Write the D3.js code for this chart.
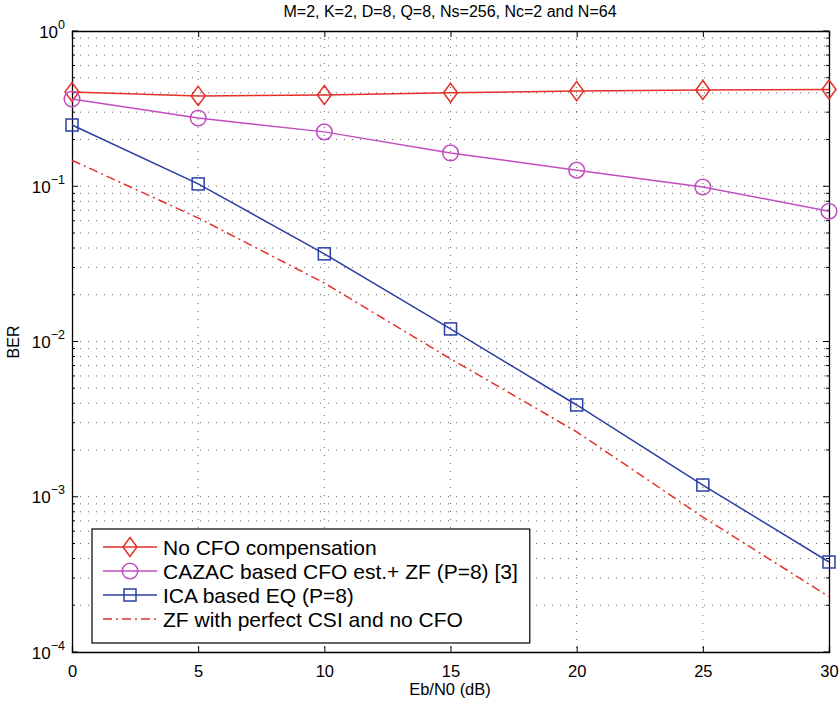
<!DOCTYPE html>
<html><head><meta charset="utf-8">
<script src="https://cdn.jsdelivr.net/npm/d3@7"></script>
<style>body{margin:0;background:#fff}svg text{font-family:"Liberation Sans",Arial,sans-serif}</style>
</head><body><svg id="c" width="840" height="706"></svg>
<script>
const xVals = [0, 5, 10, 15, 20, 25, 30];
const noCFO = [0.405, 0.382, 0.387, 0.400, 0.410, 0.417, 0.420];
const cazac = [0.365, 0.275, 0.224, 0.164, 0.127, 0.099, 0.069];
const ica = [0.248, 0.1035, 0.0367, 0.01205, 0.0039, 0.00119, 0.00038];
const zfPerfect = [0.147, 0.0625, 0.0238, 0.00773, 0.00262, 0.00074, 0.000227];
const xTicks = [0, 5, 10, 15, 20, 25, 30];
const yExps = [0, -1, -2, -3, -4];
const legendLabels = ["No CFO compensation", "CAZAC based CFO est.+ ZF (P=8) [3]", "ICA based EQ (P=8)", "ZF with perfect CSI and no CFO"];

const svg = d3.select("#c");
const L = 72, R = 829, T = 31, B = 652;
const x = d3.scaleLinear().domain([0, 30]).range([L, R]);
const y = d3.scaleLog().domain([1e-4, 1]).range([B, T]);

// grid
const g = svg.append("g");
const minorY = [];
for (let e = -4; e < 0; e++) for (let m = 1; m <= 9; m++) minorY.push(m * Math.pow(10, e));
minorY.push(1);
g.selectAll(".gy").data(minorY.filter(v => v > 1e-4 && v < 1)).join("line")
  .attr("x1", L).attr("x2", R).attr("y1", d => y(d)).attr("y2", d => y(d))
  .attr("stroke", "#333").attr("stroke-width", 1).attr("stroke-dasharray", "1,7").attr("opacity", 0.75);
g.selectAll(".gx").data(xTicks.slice(1, -1)).join("line")
  .attr("x1", d => x(d)).attr("x2", d => x(d)).attr("y1", T).attr("y2", B)
  .attr("stroke", "#333").attr("stroke-width", 1).attr("stroke-dasharray", "1,7").attr("opacity", 0.75);

// axes with inward ticks
const axB = d3.axisBottom(x).tickValues(xTicks).tickSize(-6).tickPadding(13).tickFormat(d3.format("d"));
const axT = d3.axisTop(x).tickValues(xTicks).tickSize(-6).tickFormat("");
const axL = d3.axisLeft(y).tickValues([]).tickSize(0);
const axR = d3.axisRight(y).tickValues([]).tickSize(0);
function styleAx(sel) { sel.select(".domain").attr("stroke", "#000").attr("stroke-width", 1.3); sel.selectAll(".tick line").attr("stroke", "#000"); }
const gb = svg.append("g").attr("transform", `translate(0,${B})`).call(axB); styleAx(gb);
gb.selectAll(".tick text").attr("font-size", 16.5).attr("fill", "#000").attr("font-family", "Liberation Sans, Arial, sans-serif");
const gt = svg.append("g").attr("transform", `translate(0,${T})`).call(axT); styleAx(gt);
const gl = svg.append("g").attr("transform", `translate(${L},0)`).call(axL); styleAx(gl);
const gr = svg.append("g").attr("transform", `translate(${R},0)`).call(axR); styleAx(gr);
// y ticks: major 6, minor 3
[[L, 1], [R, -1]].forEach(([px, dir]) => {
  svg.append("g").selectAll("line").data(minorY.filter(v => v >= 1e-4 && v <= 1)).join("line")
    .attr("x1", px).attr("x2", d => px + dir * (Math.abs(Math.log10(d) - Math.round(Math.log10(d))) < 1e-9 ? 6 : 3))
    .attr("y1", d => y(d)).attr("y2", d => y(d)).attr("stroke", "#000").attr("stroke-width", 1);
});
// y labels 10^e
const yl = svg.append("g").selectAll("text").data(yExps).join("text")
  .attr("x", 65).attr("y", d => y(Math.pow(10, d)) + 6.5).attr("text-anchor", "end")
  .attr("font-size", 17).attr("fill", "#000");
yl.append("tspan").text("10");
yl.append("tspan").attr("dy", -9).attr("font-size", 12.5).text(d => d === 0 ? "0" : "\u2212" + (-d));

// labels
svg.append("text").attr("x", 450).attr("y", 17).attr("text-anchor", "middle").attr("font-size", 16).text("M=2, K=2, D=8, Q=8, Ns=256, Nc=2 and N=64");
svg.append("text").attr("x", 450).attr("y", 695).attr("text-anchor", "middle").attr("font-size", 16.5).text("Eb/N0 (dB)");
svg.append("text").attr("transform", "translate(19,342) rotate(-90)").attr("text-anchor", "middle").attr("font-size", 16).text("BER");

const RED = "#e4302b", MAG = "#c04ec0", BLUE = "#2b3fa3";
const line = d3.line().x((d, i) => x(xVals[i])).y(d => y(d));

function diamond(sel, cx, cy, col) {
  sel.append("path").attr("d", `M${cx},${cy - 9.5}L${cx + 7},${cy}L${cx},${cy + 9.5}L${cx - 7},${cy}Z`).attr("fill", "none").attr("stroke", col).attr("stroke-width", 1.5);
}
function circ(sel, cx, cy, col) { sel.append("circle").attr("cx", cx).attr("cy", cy).attr("r", 7.8).attr("fill", "none").attr("stroke", col).attr("stroke-width", 1.5); }
function sq(sel, cx, cy, col) { sel.append("rect").attr("x", cx - 6).attr("y", cy - 6).attr("width", 12).attr("height", 12).attr("fill", "none").attr("stroke", col).attr("stroke-width", 1.5); }

const series = [
  { v: noCFO, c: RED, m: diamond, dash: null },
  { v: cazac, c: MAG, m: circ, dash: null },
  { v: ica, c: BLUE, m: sq, dash: null },
  { v: zfPerfect, c: RED, m: null, dash: "9,4,2,4" }
];
series.forEach(s => {
  svg.append("path").datum(s.v).attr("d", line).attr("fill", "none").attr("stroke", s.c).attr("stroke-width", 1.5)
    .attr("stroke-dasharray", s.dash);
  if (s.m) { const mg = svg.append("g"); s.v.forEach((v, i) => s.m(mg, x(xVals[i]), y(v), s.c)); }
});

// legend
const lg = svg.append("g");
const box = lg.append("rect").attr("x", 92).attr("y", 529).attr("height", 114).attr("fill", "#fff").attr("stroke", "#000").attr("stroke-width", 1.2);
let maxR = 0;
series.forEach((s, i) => {
  const cy = 547 + i * 24;
  lg.append("line").attr("x1", 103).attr("x2", 157).attr("y1", cy).attr("y2", cy).attr("stroke", s.c).attr("stroke-width", 1.5).attr("stroke-dasharray", s.dash);
  if (s.m) s.m(lg, 130, cy, s.c);
  const t = lg.append("text").attr("x", 163).attr("y", cy + 7.5).attr("font-size", 21).attr("fill", "#000").text(legendLabels[i]);
  maxR = Math.max(maxR, 163 + t.node().getComputedTextLength());
});
box.attr("width", maxR + 12 - 92);
</script></body></html>
